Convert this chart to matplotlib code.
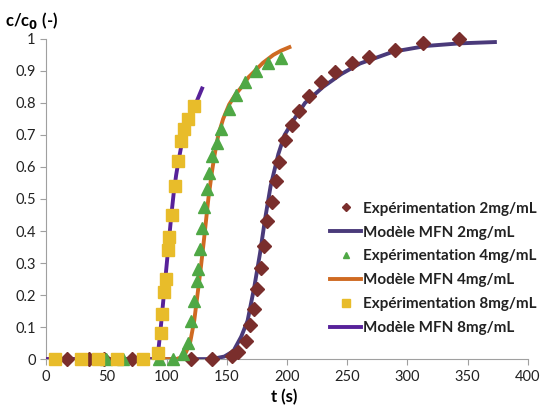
import matplotlib
matplotlib.use("Agg")
import matplotlib.pyplot as plt

plt.rcParams['font.family'] = ['Lato', 'DejaVu Sans']

# experimental points, 2 mg/mL
exp2_t = [17, 36, 48, 71, 120, 138, 154, 159.6, 165.7, 169.3, 172.9, 174.8, 178.4, 181.2,
          183.7, 187.8, 190.5, 193.6, 198.3, 203.9, 210, 218.5, 228.2, 239.8, 253.7, 268,
          289.6, 312.6, 343]
exp2_c = [0, 0, 0, 0, 0, 0, 0.01, 0.023, 0.056, 0.108, 0.158, 0.22, 0.286, 0.353,
          0.43, 0.49, 0.557, 0.615, 0.685, 0.732, 0.776, 0.82, 0.864, 0.898, 0.924, 0.943,
          0.966, 0.986, 1.0]
# model MFN, 2 mg/mL
mod2_t = [0, 135, 140, 148, 155.5, 162, 167.3, 172.9, 177.6, 181.7, 186.4, 192.8, 198, 205.2,
          215, 230, 245, 260.6, 288.2, 315.9, 343.6, 372.6]
mod2_c = [0, 0, 0.002, 0.008, 0.025, 0.07, 0.12, 0.226, 0.33, 0.435, 0.54, 0.64, 0.70, 0.745,
          0.80, 0.85, 0.89, 0.923, 0.96, 0.978, 0.986, 0.99]

# experimental points, 4 mg/mL
exp4_t = [50, 64, 94, 105, 114, 117.5, 120, 122.5, 125, 126, 127.5, 129.2, 131.5, 134, 135.5,
          138, 141.6, 145.5, 151.6, 157.7, 164.8, 174.3, 184.5, 195]
exp4_c = [0, 0, 0, 0, 0.015, 0.05, 0.12, 0.18, 0.245, 0.28, 0.345, 0.41, 0.475, 0.53, 0.58,
          0.635, 0.676, 0.72, 0.78, 0.825, 0.866, 0.90, 0.925, 0.94]
# model MFN, 4 mg/mL
mod4_t = [0, 108, 112, 116, 119.5, 123, 126, 128.6, 131, 134.7, 137.5, 140, 143, 147, 152,
          157, 162.4, 168, 173.4, 180, 188.7, 195, 202]
mod4_c = [0, 0, 0.005, 0.02, 0.05, 0.12, 0.21, 0.29, 0.37, 0.5, 0.58, 0.64, 0.70, 0.75, 0.795,
          0.825, 0.85, 0.88, 0.90, 0.925, 0.95, 0.963, 0.974]

# experimental points, 8 mg/mL
exp8_t = [7.5, 29, 43, 58.7, 80.8, 92.7, 95.4, 96.5, 98.2, 99.6, 101.5, 102.3, 104.3, 107,
          109.8, 111.8, 114.8, 117.6, 123]
exp8_c = [0, 0, 0, 0, 0, 0.02, 0.08, 0.14, 0.21, 0.25, 0.34, 0.38, 0.45, 0.54,
          0.62, 0.68, 0.72, 0.75, 0.79]
# model MFN, 8 mg/mL
mod8_t = [0, 88, 91, 93, 95, 97.5, 100, 102, 104, 106, 108, 110, 112.5, 115.5, 119.5, 124.5, 129.5]
mod8_c = [0, 0, 0.005, 0.02, 0.09, 0.19, 0.29, 0.37, 0.45, 0.52, 0.575, 0.62, 0.67, 0.71,
          0.76, 0.80, 0.845]

fig = plt.figure(figsize=(5.42, 4.09), dpi=100)
ax = fig.add_axes([0.085, 0.122, 0.889, 0.783])

ax.plot(exp2_t, exp2_c, 'D', color='#7A2E2C', ms=7, ls='none', zorder=4, clip_on=False,
        label='Expérimentation 2mg/mL')
ax.plot(mod2_t, mod2_c, '-', color='#4A3A7A', lw=2.8, zorder=3, label='Modèle MFN 2mg/mL')
ax.plot(exp4_t, exp4_c, '^', color='#4FA845', ms=8, ls='none', zorder=4, clip_on=False,
        label='Expérimentation 4mg/mL')
ax.plot(mod4_t, mod4_c, '-', color='#CF6A22', lw=2.8, zorder=3, label='Modèle MFN 4mg/mL')
ax.plot(exp8_t, exp8_c, 's', color='#E8BC2A', ms=8.5, ls='none', zorder=5, clip_on=False,
        label='Expérimentation 8mg/mL')
ax.plot(mod8_t, mod8_c, '-', color='#57219A', lw=2.8, zorder=3, label='Modèle MFN 8mg/mL')

ax.set_xlim(0, 400)
ax.set_ylim(0, 1)
ax.set_xticks(range(0, 401, 50))
ax.set_yticks([i / 10 for i in range(11)])
ax.set_yticklabels(['0', '0.1', '0.2', '0.3', '0.4', '0.5', '0.6', '0.7', '0.8', '0.9', '1'])
for s in ['top', 'right']:
    ax.spines[s].set_visible(False)
for s in ['left', 'bottom']:
    ax.spines[s].set_color('#a0a0a0')
ax.tick_params(colors='#a0a0a0', labelcolor='#222222', labelsize=10.5, length=4)

fig.text(0.01, 0.95, 'c/c$_\\mathbf{0}$ (-)', fontsize=12, fontweight='bold', ha='left', va='center')
fig.text(0.525, 0.03, 't (s)', fontsize=12, fontweight='bold', ha='center', va='center')

leg = ax.legend(loc='upper left', bbox_to_anchor=(0.598, 0.522), bbox_transform=fig.transFigure,
                frameon=False, fontsize=11, handlelength=2.0, handletextpad=0.15,
                labelspacing=0.65, borderaxespad=0, markerscale=0.6)
for t in leg.get_texts():
    t.set_fontweight('bold')
    t.set_color('#222222')

plt.savefig("out.png", dpi=100)
